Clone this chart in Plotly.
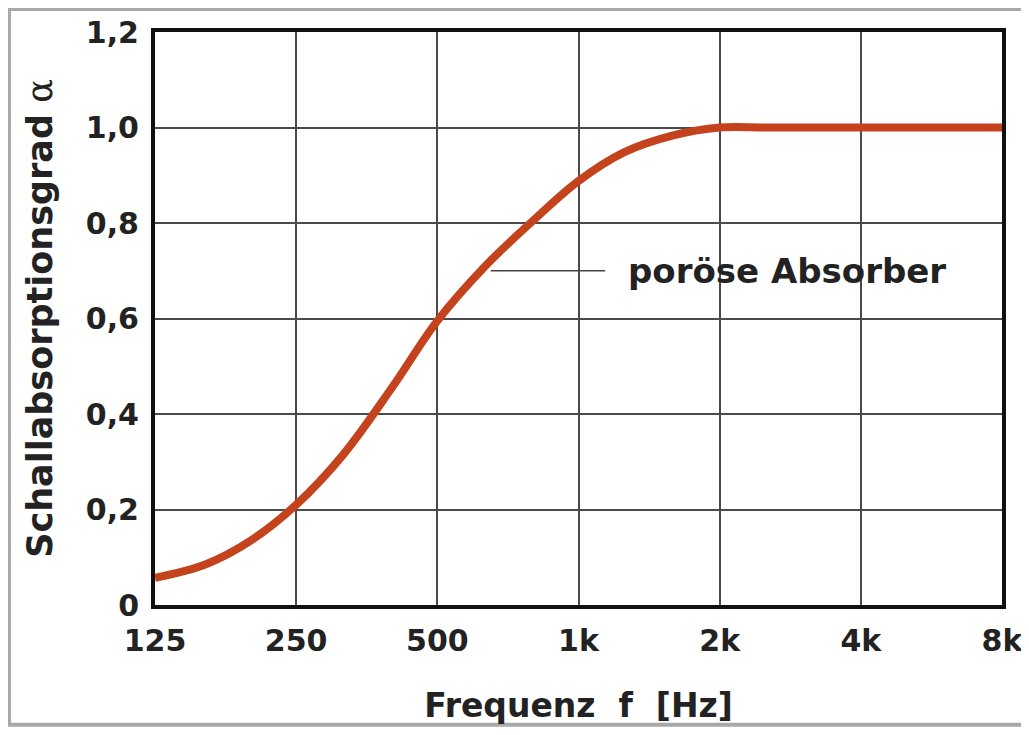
import math
import plotly.graph_objects as go

# data (third-octave frequencies, absorption coefficient)
freq_hz = [125, 160, 200, 250, 315, 400, 500, 630, 800, 1000, 1250, 1600,
           2000, 2500, 3150, 4000, 5000, 6300, 8000]
alpha = [0.057, 0.085, 0.135, 0.21, 0.315, 0.455, 0.595, 0.708, 0.805, 0.888, 0.948, 0.984,
         1.0, 1.0, 1.0, 1.0, 1.0, 1.0, 1.0]

x_tick_vals = [125, 250, 500, 1000, 2000, 4000, 8000]
x_tick_text = ["125", "250", "500", "1k", "2k", "4k", "8k"]
y_tick_vals = [0, 0.2, 0.4, 0.6, 0.8, 1.0, 1.2]
y_tick_text = ["0", "0,2", "0,4", "0,6", "0,8", "1,0", "1,2"]

label_text = "poröse Absorber"
leader_x = [650, 1140]
leader_y = [0.70, 0.70]
label_x = 1260
label_y = 0.70

FONT = "DejaVu Sans"
TXT = "#222222"

fig = go.Figure()

fig.add_trace(go.Scatter(
    x=leader_x, y=leader_y, mode="lines",
    line=dict(color="#444444", width=1.6),
    hoverinfo="skip", showlegend=False,
))

fig.add_trace(go.Scatter(
    x=freq_hz, y=alpha, mode="lines",
    line=dict(color="#c4431d", width=8, shape="spline", smoothing=1.0),
    showlegend=False,
))

fig.add_annotation(
    x=math.log10(label_x), y=label_y, xref="x", yref="y",
    text="<b>" + label_text + "</b>", showarrow=False,
    xanchor="left", yanchor="middle",
    font=dict(family=FONT, size=34, color=TXT),
)

eps = 1e-7
fig.update_xaxes(
    type="log",
    range=[math.log10(125) - eps, math.log10(8000) + eps],
    tickvals=x_tick_vals, ticktext=["<b>%s</b>" % t for t in x_tick_text],
    tickfont=dict(family=FONT, size=30, color=TXT),
    ticklabelshift=0, ticklabelstandoff=6, ticklabeloverflow="allow",
    automargin=False,
    showgrid=True, gridcolor="#4a4a4a", gridwidth=2,
    showline=True, linecolor="#111111", linewidth=4, mirror=True,
    ticks="", zeroline=False,
    title=dict(text="<b>Frequenz  f  [Hz]</b>", font=dict(family=FONT, size=33, color=TXT), standoff=38),
)
fig.update_yaxes(
    range=[0, 1.2],
    tickvals=y_tick_vals, ticktext=["<b>%s</b>" % t for t in y_tick_text],
    tickfont=dict(family=FONT, size=30, color=TXT),
    ticklabelstandoff=6,
    automargin=False,
    showgrid=True, gridcolor="#4a4a4a", gridwidth=2,
    showline=True, linecolor="#111111", linewidth=4, mirror=True,
    ticks="", zeroline=False,
    title=dict(text="<b>Schallabsorptionsgrad</b> <span style='font-family:DejaVu Serif'>α</span>",
               font=dict(family=FONT, size=35, color=TXT), standoff=24),
)

fig.add_shape(
    type="rect", xref="paper", yref="paper",
    x0=-0.1724, x1=1.03, y0=-0.209, y1=1.040,
    line=dict(color="#a8a8a8", width=4), fillcolor="rgba(0,0,0,0)", layer="below",
)

fig.update_layout(
    width=1013, height=719,
    margin=dict(l=147, r=19, t=24, b=122),
    paper_bgcolor="white", plot_bgcolor="white",
    showlegend=False,
)

fig.write_html("out.html")
